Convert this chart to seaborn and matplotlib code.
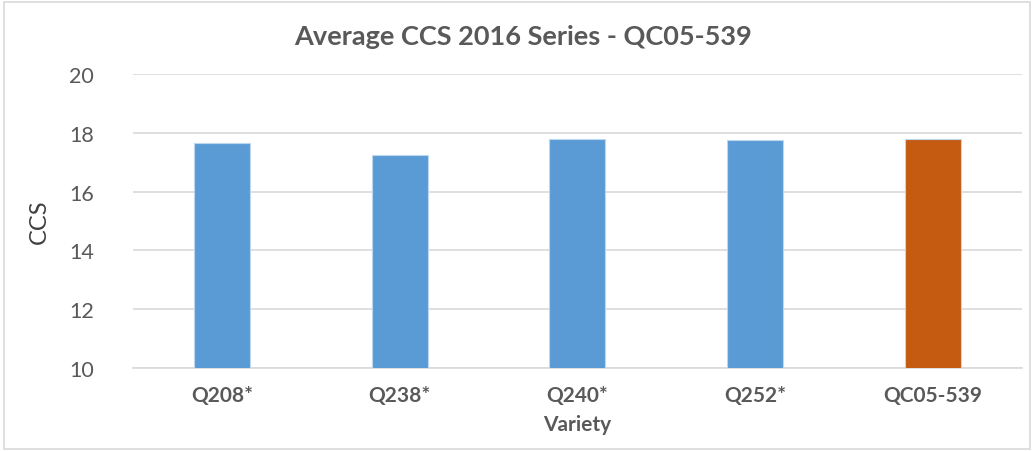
import pandas as pd
import matplotlib.pyplot as plt
import seaborn as sns


# -------------------------------
# DATA
# -------------------------------
varieties = ["Q208*", "Q238*", "Q240*", "Q252*", "QC05-539"]
ccs_values = [17.67, 17.24, 17.81, 17.75, 17.81]
groups = ["Standard", "Standard", "Standard", "Standard", "Test"]
y_ticks = [10, 12, 14, 16, 18, 20]

BLUE = "#5B9BD5"
ORANGE = "#C55A11"
TEXT = "#595959"
GRID = "#D9D9D9"


def make_chart():
    df = pd.DataFrame({"Variety": varieties, "CCS": ccs_values, "Group": groups})

    sns.set_theme(style="white")
    plt.rcParams["font.family"] = ["Lato", "DejaVu Sans"]

    fig = plt.figure(figsize=(10.34, 4.52), dpi=100)
    ax = fig.add_axes([0.1286, 0.1836, 0.8594, 0.650])

    sns.barplot(data=df, x="Variety", y="CCS", hue="Group",
                palette={"Standard": BLUE, "Test": ORANGE}, saturation=1,
                dodge=False, width=0.315, legend=False,
                edgecolor="#BDD7EE", linewidth=0.8, ax=ax, zorder=3)

    ax.set_ylim(10, 20)
    ax.set_yticks(y_ticks)
    ax.set_yticklabels([str(t) for t in y_ticks], fontsize=15.5, color=TEXT)
    ax.yaxis.grid(True, color=GRID, linewidth=1.2, zorder=0)
    ax.set_axisbelow(True)

    for lbl in ax.get_xticklabels():
        lbl.set_fontsize(15)
        lbl.set_fontweight("bold")
        lbl.set_color(TEXT)

    ax.tick_params(axis="both", length=0)
    ax.tick_params(axis="x", pad=12)
    ax.tick_params(axis="y", pad=28)

    for side in ["top", "right", "left"]:
        ax.spines[side].set_visible(False)
    ax.spines["bottom"].set_color(GRID)
    ax.spines["bottom"].set_linewidth(1.2)

    ax.set_xlabel("Variety", fontsize=15, fontweight="bold", color=TEXT, labelpad=7)
    ax.set_ylabel("CCS", fontsize=17, color="#404040", labelpad=14)

    fig.text(0.506, 0.918, "Average CCS 2016 Series - QC05-539", ha="center", va="center",
             fontsize=19.5, fontweight="bold", color=TEXT)

    # thin frame round the whole chart
    frame = plt.Rectangle((0.004, 0.004), 0.992, 0.99, transform=fig.transFigure,
                          fill=False, edgecolor=GRID, linewidth=1.2)
    fig.patches.append(frame)

    fig.savefig("out.png", dpi=100)


if __name__ == "__main__":
    make_chart()
